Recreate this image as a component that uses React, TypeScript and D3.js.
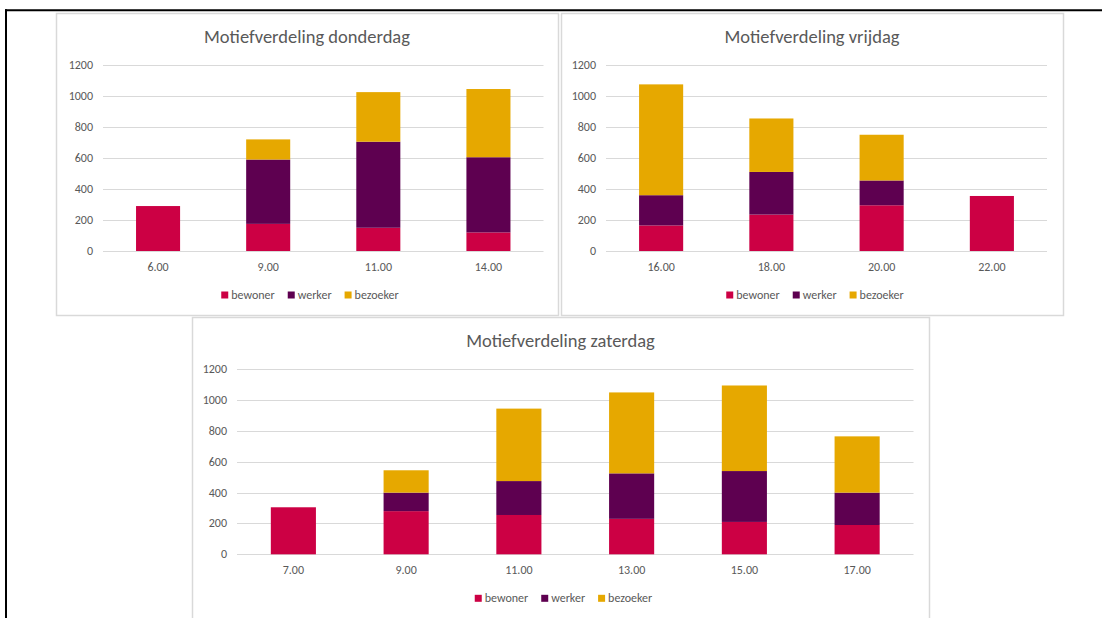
import React, { useEffect, useRef } from 'react';
import * as d3 from 'd3';

// series shared by all three charts
const seriesNames = ['bewoner', 'werker', 'bezoeker'];
const seriesColors = ['#CC0044', '#5E0050', '#E6A800'];
const yTicks = [0, 200, 400, 600, 800, 1000, 1200];

// donderdag
const thuTimes = ['6.00', '9.00', '11.00', '14.00'];
const thuBewoner = [290, 175, 150, 120];
const thuWerker = [0, 415, 555, 485];
const thuBezoeker = [0, 130, 320, 440];

// vrijdag
const friTimes = ['16.00', '18.00', '20.00', '22.00'];
const friBewoner = [165, 235, 295, 355];
const friWerker = [195, 275, 160, 0];
const friBezoeker = [715, 345, 295, 0];

// zaterdag
const satTimes = ['7.00', '9.00', '11.00', '13.00', '15.00', '17.00'];
const satBewoner = [305, 280, 255, 230, 210, 190];
const satWerker = [0, 120, 220, 295, 330, 210];
const satBezoeker = [0, 145, 470, 525, 555, 365];

const FONT = 'Carlito, Calibri, Lato, sans-serif';
const TEXT = '#595959';
const GRID = '#D9D9D9';

interface Box { x0: number; x1: number; y0: number; y1: number; }
interface ChartSpec {
  title: string;
  times: string[];
  series: number[][];
  panel: Box;
  plot: Box;
}

const charts: ChartSpec[] = [
  {
    title: 'Motiefverdeling donderdag',
    times: thuTimes,
    series: [thuBewoner, thuWerker, thuBezoeker],
    panel: { x0: 56, x1: 558, y0: 13, y1: 315 },
    plot: { x0: 103, x1: 543.5, y0: 65, y1: 251 },
  },
  {
    title: 'Motiefverdeling vrijdag',
    times: friTimes,
    series: [friBewoner, friWerker, friBezoeker],
    panel: { x0: 561, x1: 1063, y0: 13, y1: 315 },
    plot: { x0: 606, x1: 1047, y0: 65, y1: 251 },
  },
  {
    title: 'Motiefverdeling zaterdag',
    times: satTimes,
    series: [satBewoner, satWerker, satBezoeker],
    panel: { x0: 192, x1: 929, y0: 317, y1: 630 },
    plot: { x0: 237, x1: 913.5, y0: 369.3, y1: 554.3 },
  },
];

function drawChart(root: d3.Selection<SVGGElement, unknown, null, undefined>, spec: ChartSpec) {
  const { panel, plot } = spec;
  const g = root.append('g');

  g.append('rect')
    .attr('x', panel.x0 + 0.5)
    .attr('y', panel.y0 + 0.5)
    .attr('width', panel.x1 - panel.x0)
    .attr('height', panel.y1 - panel.y0)
    .attr('fill', '#fff')
    .attr('stroke', GRID)
    .attr('stroke-width', 1.5);

  const cx = (panel.x0 + panel.x1) / 2;
  g.append('text')
    .attr('x', cx)
    .attr('y', panel.y0 + 30)
    .attr('text-anchor', 'middle')
    .attr('font-family', FONT)
    .attr('font-size', 18.5)
    .attr('fill', TEXT)
    .text(spec.title);

  const x = d3.scaleBand<string>()
    .domain(spec.times)
    .range([plot.x0, plot.x1])
    .paddingInner(0.6)
    .paddingOuter(0.3);

  const y = d3.scaleLinear().domain([0, 1200]).range([plot.y1, plot.y0]);

  // gridlines + y labels
  g.append('g')
    .selectAll('line')
    .data(yTicks)
    .join('line')
    .attr('x1', plot.x0)
    .attr('x2', plot.x1)
    .attr('y1', d => Math.round(y(d)) + 0.5)
    .attr('y2', d => Math.round(y(d)) + 0.5)
    .attr('stroke', GRID)
    .attr('stroke-width', 1);

  g.append('g')
    .selectAll('text')
    .data(yTicks)
    .join('text')
    .attr('x', plot.x0 - 10)
    .attr('y', d => y(d) + 4)
    .attr('text-anchor', 'end')
    .attr('font-family', FONT)
    .attr('font-size', 12)
    .attr('fill', TEXT)
    .text(d => String(d));

  // stacked bars
  const rows = spec.times.map((t, i) => {
    const row: Record<string, any> = { time: t };
    seriesNames.forEach((s, k) => { row[s] = spec.series[k][i]; });
    return row;
  });
  const stacked = d3.stack<Record<string, any>>().keys(seriesNames)(rows);

  stacked.forEach((layer, k) => {
    g.append('g')
      .attr('fill', seriesColors[k])
      .selectAll('rect')
      .data(layer.filter(d => d[1] - d[0] > 0))
      .join('rect')
      .attr('x', d => x(d.data.time) as number)
      .attr('width', x.bandwidth())
      .attr('y', d => y(d[1]))
      .attr('height', d => y(d[0]) - y(d[1]));
  });

  // x labels
  g.append('g')
    .selectAll('text')
    .data(spec.times)
    .join('text')
    .attr('x', d => (x(d) as number) + x.bandwidth() / 2)
    .attr('y', plot.y1 + 20)
    .attr('text-anchor', 'middle')
    .attr('font-family', FONT)
    .attr('font-size', 12)
    .attr('fill', TEXT)
    .text(d => d);

  // legend, centred under the panel
  const legendY = plot.y1 + 44;
  const leg = g.append('g');
  let cursor = 0;
  seriesNames.forEach((name, k) => {
    leg.append('rect')
      .attr('x', cursor)
      .attr('y', legendY - 3.5)
      .attr('width', 7)
      .attr('height', 7)
      .attr('fill', seriesColors[k]);
    const t = leg.append('text')
      .attr('x', cursor + 10)
      .attr('y', legendY + 4)
      .attr('font-family', FONT)
      .attr('font-size', 12)
      .attr('fill', TEXT)
      .text(name);
    const w = (t.node() as SVGTextElement).getComputedTextLength();
    cursor += 10 + w + 13;
  });
  const total = cursor - 13;
  leg.attr('transform', `translate(${cx - total / 2 + 3},0)`);
}

export default function App() {
  const ref = useRef<SVGSVGElement>(null);

  useEffect(() => {
    if (!ref.current) return;
    const svg = d3.select(ref.current);
    svg.selectAll('*').remove();
    const root = svg.append('g');

    // outer black frame (top + left edges visible)
    root.append('line')
      .attr('x1', 5).attr('x2', 1102).attr('y1', 10.3).attr('y2', 10.3)
      .attr('stroke', '#000').attr('stroke-width', 2);
    root.append('line')
      .attr('x1', 6).attr('x2', 6).attr('y1', 9.3).attr('y2', 618)
      .attr('stroke', '#000').attr('stroke-width', 2);

    charts.forEach(c => drawChart(root, c));
  }, []);

  return (
    <svg
      ref={ref}
      width={1102}
      height={618}
      style={{ position: 'absolute', left: 0, top: 0, background: '#fff' }}
    />
  );
}
